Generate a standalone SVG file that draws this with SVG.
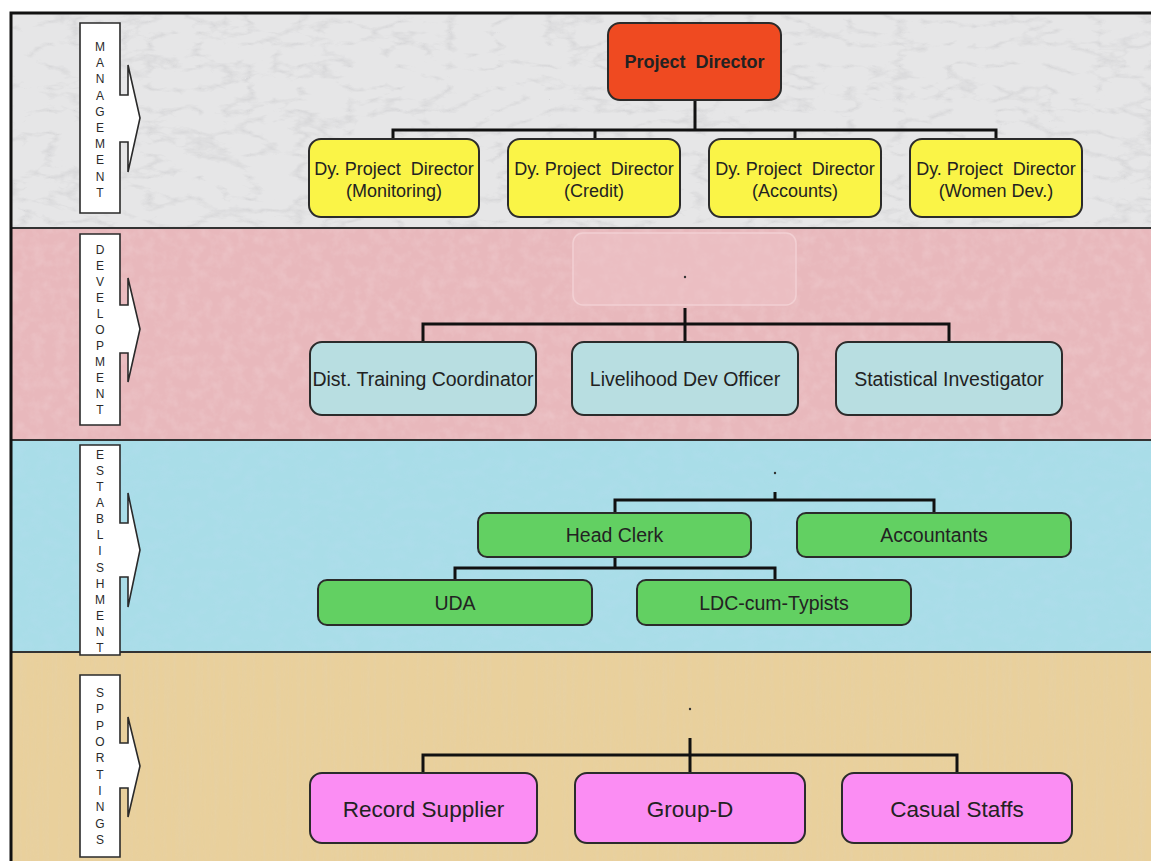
<svg xmlns="http://www.w3.org/2000/svg" width="1151" height="861" viewBox="0 0 1151 861">
<style>
text{font-family:"Liberation Sans",Arial,sans-serif}
.lbl{fill:#fff;stroke:#2a2a2a;stroke-width:1.6}
.lt{font-size:12px;fill:#2a2a2a;text-anchor:middle}
.node{stroke:#2b2b2b;stroke-width:2}
.nt{text-anchor:middle;fill:#222}
.pd{fill:#ef4a21}
.dy{fill:#faf447}
.dev{fill:#b8dee1}
.est{fill:#62d062}
.sup{fill:#fb8df3}
.conn{fill:none;stroke:#111;stroke-width:3}
.sep{stroke:#333;stroke-width:2}
</style>
<defs>
<filter id="marble" x="0" y="0" width="100%" height="100%" filterUnits="objectBoundingBox">
<feTurbulence type="turbulence" baseFrequency="0.02 0.045" numOctaves="4" seed="7"/>
<feColorMatrix type="matrix" values="0 0 0 0 0.5  0 0 0 0 0.5  0 0 0 0 0.52  -2.4 0 0 0 0.6"/>
</filter>
<filter id="mottle" x="0" y="0" width="100%" height="100%" filterUnits="objectBoundingBox">
<feTurbulence type="fractalNoise" baseFrequency="0.09" numOctaves="3" seed="3"/>
<feColorMatrix type="matrix" values="0 0 0 0 1  0 0 0 0 0.95  0 0 0 0 0.95  1.4 0 0 0 -0.55"/>
</filter>
<filter id="drops" x="0" y="0" width="100%" height="100%" filterUnits="objectBoundingBox">
<feTurbulence type="fractalNoise" baseFrequency="0.07 0.1" numOctaves="2" seed="11"/>
<feColorMatrix type="matrix" values="0 0 0 0 0.45  0 0 0 0 0.72  0 0 0 0 0.85  1.8 0 0 0 -0.72"/>
</filter>
<filter id="papyrus" x="0" y="0" width="100%" height="100%" filterUnits="objectBoundingBox">
<feTurbulence type="fractalNoise" baseFrequency="0.3 0.008" numOctaves="2" seed="5"/>
<feColorMatrix type="matrix" values="0 0 0 0 0.78  0 0 0 0 0.64  0 0 0 0 0.4  1.8 0 0 0 -0.72"/>
</filter>
</defs>

<rect x="0" y="0" width="1151" height="861" fill="#fff"/>

<g id="bands">
<rect x="11" y="13" width="1140" height="215" fill="#e6e6e7"/>
<rect x="11" y="13" width="1140" height="215" filter="url(#marble)" opacity="0.6"/>
<rect x="11" y="228" width="1140" height="212" fill="#e8b8bc"/>
<rect x="11" y="228" width="1140" height="212" filter="url(#mottle)" opacity="0.22"/>
<rect x="11" y="440" width="1140" height="212" fill="#a9dde8"/>
<rect x="11" y="440" width="1140" height="212" filter="url(#drops)" opacity="0.55"/>
<rect x="11" y="652" width="1140" height="209" fill="#e9d09c"/>
<rect x="11" y="652" width="1140" height="209" filter="url(#papyrus)" opacity="0.55"/>
<line class="sep" x1="11" y1="228" x2="1151" y2="228"/>
<line class="sep" x1="11" y1="440" x2="1151" y2="440"/>
<line class="sep" x1="11" y1="652" x2="1151" y2="652"/>
<path d="M11,861 V13 H1151" fill="none" stroke="#111" stroke-width="3"/>
</g>

<g id="label-management">
<path class="lbl" d="M80,23 H120 V95 H128 V65 L140,118 L128,172 V142 H120 V213 H80 Z"/>
<text class="lt" x="100" y="51"><tspan x="100">M</tspan><tspan x="100" dy="16.2">A</tspan><tspan x="100" dy="16.2">N</tspan><tspan x="100" dy="16.2">A</tspan><tspan x="100" dy="16.2">G</tspan><tspan x="100" dy="16.2">E</tspan><tspan x="100" dy="16.2">M</tspan><tspan x="100" dy="16.2">E</tspan><tspan x="100" dy="16.2">N</tspan><tspan x="100" dy="16.2">T</tspan></text>
</g>
<g id="label-development">
<path class="lbl" d="M80,234 H120 V305 H128 V278 L140,329 L128,382 V353 H120 V425 H80 Z"/>
<text class="lt" x="100" y="254"><tspan x="100">D</tspan><tspan x="100" dy="16">E</tspan><tspan x="100" dy="16">V</tspan><tspan x="100" dy="16">E</tspan><tspan x="100" dy="16">L</tspan><tspan x="100" dy="16">O</tspan><tspan x="100" dy="16">P</tspan><tspan x="100" dy="16">M</tspan><tspan x="100" dy="16">E</tspan><tspan x="100" dy="16">N</tspan><tspan x="100" dy="16">T</tspan></text>
</g>
<g id="label-establishment">
<path class="lbl" d="M80,445 H120 V523 H128 V493 L140,550 L128,607 V577 H120 V655 H80 Z"/>
<text class="lt" x="100" y="459"><tspan x="100">E</tspan><tspan x="100" dy="16.08">S</tspan><tspan x="100" dy="16.08">T</tspan><tspan x="100" dy="16.08">A</tspan><tspan x="100" dy="16.08">B</tspan><tspan x="100" dy="16.08">L</tspan><tspan x="100" dy="16.08">I</tspan><tspan x="100" dy="16.08">S</tspan><tspan x="100" dy="16.08">H</tspan><tspan x="100" dy="16.08">M</tspan><tspan x="100" dy="16.08">E</tspan><tspan x="100" dy="16.08">N</tspan><tspan x="100" dy="16.08">T</tspan></text>
</g>
<g id="label-supportings">
<path class="lbl" d="M80,675 H120 V743 H128 V717 L140,766 L128,817 V788 H120 V857 H80 Z"/>
<text class="lt" x="100" y="697"><tspan x="100">S</tspan><tspan x="100" dy="16.33">P</tspan><tspan x="100" dy="16.33">P</tspan><tspan x="100" dy="16.33">O</tspan><tspan x="100" dy="16.33">R</tspan><tspan x="100" dy="16.33">T</tspan><tspan x="100" dy="16.33">I</tspan><tspan x="100" dy="16.33">N</tspan><tspan x="100" dy="16.33">G</tspan><tspan x="100" dy="16.33">S</tspan></text>
</g>

<g id="connectors">
<path class="conn" d="M695,100 V130 M393,139 V130 H996 V139 M595,130 V139 M795,130 V139"/>
<path class="conn" d="M685,308 V342 M423,342 V324 H949 V342"/>
<path class="conn" d="M775,492 V500 M615,513 V500 H934 V513 M615,557 V568 M455,580 V568 H775 V580"/>
<path class="conn" d="M690,738 V773 M423,773 V755 H957 V773"/>
</g>

<g id="placeholders">
<rect x="573" y="233" width="223" height="72" rx="10" fill="#edc4c7" fill-opacity="0.5" stroke="#f2d0d3" stroke-width="1.5"/>
<circle cx="685" cy="277" r="1.2" fill="#333"/>
<circle cx="775" cy="473" r="1.2" fill="#333"/>
<circle cx="690" cy="709" r="1.2" fill="#333"/>
</g>

<g id="project-director">
<rect class="node pd" x="608" y="23" width="173" height="77" rx="12"/>
<text class="nt" x="694.5" y="68" font-size="18" font-weight="bold" fill="#2a1208" xml:space="preserve">Project  Director</text>
</g>
<g id="dpd-monitoring">
<rect class="node dy" x="309" y="139" width="170" height="78" rx="12"/>
<text class="nt" x="394" y="175" font-size="18" fill="#33330f" xml:space="preserve">Dy. Project  Director</text>
<text class="nt" x="394" y="197" font-size="18" fill="#33330f">(Monitoring)</text>
</g>
<g id="dpd-credit">
<rect class="node dy" x="508" y="139" width="172" height="78" rx="12"/>
<text class="nt" x="594" y="175" font-size="18" fill="#33330f" xml:space="preserve">Dy. Project  Director</text>
<text class="nt" x="594" y="197" font-size="18" fill="#33330f">(Credit)</text>
</g>
<g id="dpd-accounts">
<rect class="node dy" x="709" y="139" width="172" height="78" rx="12"/>
<text class="nt" x="795" y="175" font-size="18" fill="#33330f" xml:space="preserve">Dy. Project  Director</text>
<text class="nt" x="795" y="197" font-size="18" fill="#33330f">(Accounts)</text>
</g>
<g id="dpd-women">
<rect class="node dy" x="910" y="139" width="172" height="78" rx="12"/>
<text class="nt" x="996" y="175" font-size="18" fill="#33330f" xml:space="preserve">Dy. Project  Director</text>
<text class="nt" x="996" y="197" font-size="18" fill="#33330f">(Women Dev.)</text>
</g>

<g id="dist-training">
<rect class="node dev" x="310" y="342" width="226" height="73" rx="12"/>
<text class="nt" x="423" y="386" font-size="19.5" fill="#263236">Dist. Training Coordinator</text>
</g>
<g id="livelihood">
<rect class="node dev" x="572" y="342" width="226" height="73" rx="12"/>
<text class="nt" x="685" y="386" font-size="19.5" fill="#263236">Livelihood Dev Officer</text>
</g>
<g id="statistical">
<rect class="node dev" x="836" y="342" width="226" height="73" rx="12"/>
<text class="nt" x="949" y="386" font-size="19.5" fill="#263236">Statistical Investigator</text>
</g>

<g id="head-clerk">
<rect class="node est" x="478" y="513" width="273" height="44" rx="9"/>
<text class="nt" x="614.5" y="542" font-size="19.5" fill="#1c2e1c">Head Clerk</text>
</g>
<g id="accountants">
<rect class="node est" x="797" y="513" width="274" height="44" rx="9"/>
<text class="nt" x="934" y="542" font-size="19.5" fill="#1c2e1c">Accountants</text>
</g>
<g id="uda">
<rect class="node est" x="318" y="580" width="274" height="45" rx="9"/>
<text class="nt" x="455" y="610" font-size="19.5" fill="#1c2e1c">UDA</text>
</g>
<g id="ldc">
<rect class="node est" x="637" y="580" width="274" height="45" rx="9"/>
<text class="nt" x="774" y="610" font-size="19.5" fill="#1c2e1c">LDC-cum-Typists</text>
</g>

<g id="record-supplier">
<rect class="node sup" x="310" y="773" width="227" height="70" rx="12"/>
<text class="nt" x="423.5" y="817" font-size="22.5" fill="#3d1a3d">Record Supplier</text>
</g>
<g id="group-d">
<rect class="node sup" x="575" y="773" width="230" height="70" rx="12"/>
<text class="nt" x="690" y="817" font-size="22.5" fill="#3d1a3d">Group-D</text>
</g>
<g id="casual-staffs">
<rect class="node sup" x="842" y="773" width="230" height="70" rx="12"/>
<text class="nt" x="957" y="817" font-size="22.5" fill="#3d1a3d">Casual Staffs</text>
</g>
</svg>
